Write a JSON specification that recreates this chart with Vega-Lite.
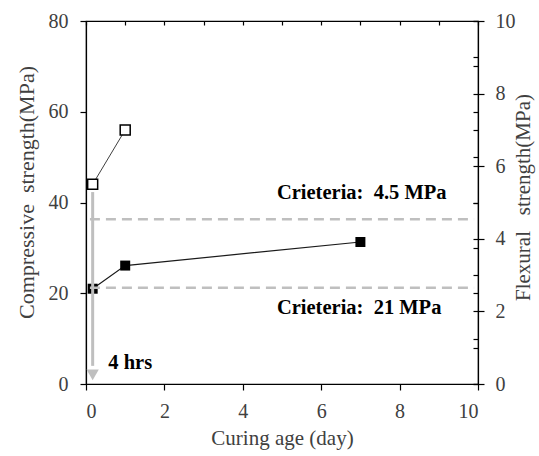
{
  "$schema": "https://vega.github.io/schema/vega-lite/v6.json",
  "width": 392,
  "height": 363,
  "autosize": {"type": "none"},
  "padding": {"left": 86, "top": 21, "right": 61, "bottom": 72},
  "config": {
    "view": {"stroke": "black", "strokeWidth": 1.2},
    "font": "Liberation Serif",
    "axis": {
      "labelFont": "Liberation Serif",
      "titleFont": "Liberation Serif",
      "labelFontSize": 20,
      "titleFontSize": 21,
      "labelColor": "#404040",
      "titleColor": "#404040",
      "titleFontWeight": "normal",
      "grid": false,
      "domainColor": "black",
      "tickColor": "black",
      "domainWidth": 1.2,
      "tickWidth": 1.2
    }
  },
  "datasets": {
    "compressive": [
      {"age": 0.17, "value": 21},
      {"age": 1, "value": 26.1},
      {"age": 7, "value": 31.3}
    ],
    "flexural": [
      {"age": 0.17, "value": 5.5},
      {"age": 1, "value": 7.0}
    ],
    "crit21": [{"x1": 0.1, "x2": 9.9, "y": 21.2}],
    "crit45": [{"x1": 0.1, "x2": 9.9, "y": 4.54}],
    "arrow": [{"x": 0.17, "y1": 42.3, "y2": 4, "tip": 2.0}],
    "labels": [
      {"x": 4.87, "y": 42, "text": "Crieteria:\u00a0 4.5 MPa"},
      {"x": 4.87, "y": 16.7, "text": "Crieteria:\u00a0 21 MPa"},
      {"x": 0.57, "y": 4.6, "text": "4 hrs"}
    ]
  },
  "layer": [
    {
      "layer": [
        {
          "data": {"name": "compressive"},
          "mark": {"type": "line", "color": "#1a1a1a", "strokeWidth": 1.2},
          "encoding": {
            "x": {"field": "age", "type": "quantitative", "scale": {"domain": [0, 10], "nice": false},
              "axis": {"values": [0, 2, 4, 6, 8, 10], "tickSize": 6, "labelPadding": 11, "title": "Curing age (day)", "titlePadding": 6, "format": "d"}},
            "y": {"field": "value", "type": "quantitative", "scale": {"domain": [0, 80], "nice": false},
              "axis": {"values": [0, 20, 40, 60, 80], "tickSize": 6, "labelPadding": 12, "title": "Compressive\u00a0 strength(MPa)", "titleFontSize": 22, "titleY": 171, "titlePadding": 10, "format": "d"}}
          }
        },
        {
          "data": {"name": "compressive"},
          "mark": {"type": "point", "shape": "square", "filled": true, "color": "black", "size": 100, "opacity": 1},
          "encoding": {
            "x": {"field": "age", "type": "quantitative", "scale": {"domain": [0, 10], "nice": false}},
            "y": {"field": "value", "type": "quantitative", "scale": {"domain": [0, 80], "nice": false}}
          }
        },
        {
          "data": {"name": "crit21"},
          "mark": {"type": "rule", "color": "#bfbfbf", "strokeWidth": 2.5, "strokeDash": [10, 6]},
          "encoding": {
            "x": {"field": "x1", "type": "quantitative", "scale": {"domain": [0, 10], "nice": false}},
            "x2": {"field": "x2"},
            "y": {"field": "y", "type": "quantitative", "scale": {"domain": [0, 80], "nice": false}}
          }
        },
        {
          "data": {"name": "arrow"},
          "mark": {"type": "rule", "color": "#bfbfbf", "strokeWidth": 3},
          "encoding": {
            "x": {"field": "x", "type": "quantitative", "scale": {"domain": [0, 10], "nice": false}},
            "y": {"field": "y1", "type": "quantitative", "scale": {"domain": [0, 80], "nice": false}},
            "y2": {"field": "y2"}
          }
        },
        {
          "data": {"name": "arrow"},
          "mark": {"type": "point", "shape": "triangle-down", "filled": true, "color": "#bfbfbf", "size": 150, "opacity": 1},
          "encoding": {
            "x": {"field": "x", "type": "quantitative", "scale": {"domain": [0, 10], "nice": false}},
            "y": {"field": "tip", "type": "quantitative", "scale": {"domain": [0, 80], "nice": false}}
          }
        },
        {
          "data": {"name": "labels"},
          "mark": {"type": "text", "font": "Liberation Serif", "fontWeight": "bold", "fontSize": 20.5, "align": "left", "baseline": "middle", "color": "black"},
          "encoding": {
            "x": {"field": "x", "type": "quantitative", "scale": {"domain": [0, 10], "nice": false}},
            "y": {"field": "y", "type": "quantitative", "scale": {"domain": [0, 80], "nice": false}},
            "text": {"field": "text"}
          }
        }
      ]
    },
    {
      "data": {"name": "compressive"},
      "mark": {"type": "point", "opacity": 0},
      "encoding": {
        "x": {"field": "age", "type": "quantitative", "scale": {"domain": [0, 10], "nice": false},
          "axis": {"values": [0, 1, 2, 3, 4, 5, 6, 7, 8, 9, 10], "offset": -4, "tickSize": 4, "labels": false, "domain": false, "title": null}},
        "y": {"field": "value", "type": "quantitative", "scale": {"domain": [0, 80], "nice": false},
          "axis": {"values": [0, 10, 20, 30, 40, 50, 60, 70, 80], "offset": -5, "tickSize": 5, "labels": false, "domain": false, "title": null}}
      }
    },
    {
      "layer": [
        {
          "data": {"name": "flexural"},
          "mark": {"type": "line", "color": "#404040", "strokeWidth": 1},
          "encoding": {
            "x": {"field": "age", "type": "quantitative", "scale": {"domain": [0, 10], "nice": false}, "axis": null},
            "y": {"field": "value", "type": "quantitative", "scale": {"domain": [0, 10], "nice": false},
              "axis": {"orient": "right", "values": [0, 2, 4, 6, 8, 10], "tickSize": 6, "labelPadding": 11, "title": "Flexural\u00a0\u00a0 strength(MPa)", "titleAngle": -90, "titleBaseline": "top", "titleY": 176, "titlePadding": -3, "format": "d"}}
          }
        },
        {
          "data": {"name": "flexural"},
          "mark": {"type": "point", "shape": "square", "filled": true, "fill": "white", "stroke": "black", "strokeWidth": 1.5, "size": 100, "opacity": 1},
          "encoding": {
            "x": {"field": "age", "type": "quantitative", "scale": {"domain": [0, 10], "nice": false}},
            "y": {"field": "value", "type": "quantitative", "scale": {"domain": [0, 10], "nice": false}}
          }
        },
        {
          "data": {"name": "crit45"},
          "mark": {"type": "rule", "color": "#bfbfbf", "strokeWidth": 2.5, "strokeDash": [10, 6]},
          "encoding": {
            "x": {"field": "x1", "type": "quantitative", "scale": {"domain": [0, 10], "nice": false}},
            "x2": {"field": "x2"},
            "y": {"field": "y", "type": "quantitative", "scale": {"domain": [0, 10], "nice": false}}
          }
        }
      ]
    },
    {
      "data": {"name": "flexural"},
      "mark": {"type": "point", "opacity": 0},
      "encoding": {
        "x": {"field": "age", "type": "quantitative", "scale": {"domain": [0, 10], "nice": false}, "axis": null},
        "y": {"field": "value", "type": "quantitative", "scale": {"domain": [0, 10], "nice": false},
          "axis": {"orient": "right", "values": [0, 1, 2, 3, 4, 5, 6, 7, 8, 9, 10], "offset": -5, "tickSize": 5, "labels": false, "domain": false, "title": null}}
      }
    }
  ],
  "resolve": {"scale": {"x": "independent", "y": "independent"}}
}
